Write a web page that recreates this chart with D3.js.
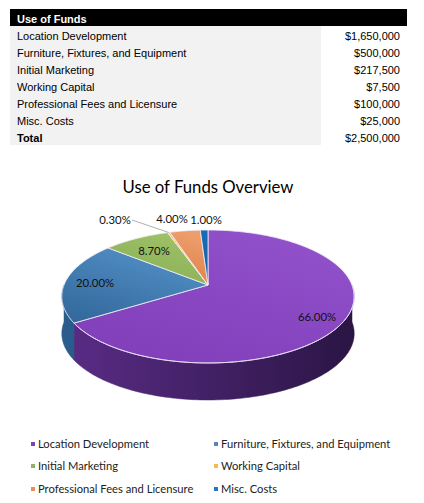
<!DOCTYPE html>
<html><head><meta charset="utf-8">
<script src="https://cdn.jsdelivr.net/npm/d3@7"></script>
<style>html,body{margin:0;padding:0;background:#fff;}svg{display:block;}</style>
</head><body>
<svg id="c" width="424" height="503"></svg>
<script>
const categories = ["Location Development","Furniture, Fixtures, and Equipment","Initial Marketing","Working Capital","Professional Fees and Licensure","Misc. Costs"];
const amounts = [1650000, 500000, 217500, 7500, 100000, 25000];
const amountLabels = ["$1,650,000","$500,000","$217,500","$7,500","$100,000","$25,000"];
const totalLabel = "$2,500,000";
const percentLabels = ["66.00%","20.00%","8.70%","0.30%","4.00%","1.00%"];
const tableTitle = "Use of Funds";
const chartTitle = "Use of Funds Overview";

const topLight = ["#9050ca","#5f9fd8","#a8c870","#f8cc6a","#f2a677","#1a6fb8"];
const topDark  = ["#8240bb","#2f6496","#6e9a3e","#e8a830","#c85a18","#0a4a85"];
const sideLight= ["#5a2c86","#2a5d8c","#5f8435","#c08a20","#a84a12","#0a3f72"];
const sideDark = ["#2b1545","#163a5e","#3f5a22","#8a6010","#7a340a","#072c52"];
const legendCol= ["#7d3fb6","#5585ba","#8fb26a","#f0bd4a","#ec8c5c","#2379c0"];

const svg = d3.select("#c");
const FONT_T = "'Liberation Sans', Arial, sans-serif";
const FONT_C = "Lato, 'Open Sans', sans-serif";

// ---------- Table ----------
const tX0 = 10, tX1 = 407, tGrayR = 321, hdrY = 9, hdrH = 17, rowH = 17;
const rows = categories.map((c,i)=>({label:c, value:amountLabels[i], bold:false}));
rows.push({label:"Total", value: totalLabel, bold:true});
const yRow = d3.scaleBand().domain(d3.range(rows.length)).range([hdrY+hdrH, hdrY+hdrH+rowH*rows.length]);
svg.append("rect").attr("x",tX0).attr("y",hdrY).attr("width",tX1-tX0).attr("height",hdrH).attr("fill","#000");
svg.append("text").attr("x",17).attr("y",hdrY+14).attr("fill","#fff").attr("font-family",FONT_T)
  .attr("font-size",11).attr("font-weight","bold").text(tableTitle);
svg.append("rect").attr("x",tX0).attr("y",hdrY+hdrH).attr("width",tGrayR-tX0).attr("height",rowH*rows.length).attr("fill","#f2f2f2");
const rg = svg.selectAll("g.row").data(rows).join("g").attr("class","row")
  .attr("transform",(d,i)=>`translate(0,${yRow(i)})`);
rg.append("text").attr("x",17).attr("y",rowH-3).attr("font-family",FONT_T).attr("font-size",11)
  .attr("font-weight",d=>d.bold?"bold":"normal").attr("fill","#000").text(d=>d.label);
rg.append("text").attr("x",400).attr("y",rowH-3).attr("text-anchor","end").attr("font-family",FONT_T).attr("font-size",11)
  .attr("fill","#000").text(d=>d.value);

// ---------- Title ----------
const title = svg.append("text").attr("x",208).attr("y",193).attr("text-anchor","middle")
  .attr("font-family",FONT_C).attr("font-size",18).attr("fill","#000").text(chartTitle);
{ const w = title.node().getComputedTextLength(); title.attr("font-size", 18*171/w); }

// ---------- 3D Pie ----------
const cx = 208, cy = 285, rx = 144, ry = 64.5, p = 0.173, depth = 37;
const pie = d3.pie().sort(null).value(d=>d)(amounts);
function proj(a, r=1){ // a: radians clockwise from top
  const X = Math.sin(a)*r, Z = Math.cos(a)*r;
  const s = 1/(1+p*Z);
  return [cx + rx*X*s, cy - ry*Z*s];
}
function arcPts(a0,a1,dy=0){
  const n = Math.max(2, Math.ceil((a1-a0)/0.02));
  return d3.range(n+1).map(k=>{const a=a0+(a1-a0)*k/n; const q=proj(a); return [q[0],q[1]+dy];});
}
const defs = svg.append("defs");
pie.forEach((d,i)=>{
  const g1 = defs.append("linearGradient").attr("id","side"+i).attr("gradientUnits","userSpaceOnUse")
    .attr("x1",cx-rx).attr("y1",0).attr("x2",cx+rx).attr("y2",0);
  g1.append("stop").attr("offset","0").attr("stop-color",sideLight[i]);
  g1.append("stop").attr("offset","1").attr("stop-color",sideDark[i]);
  const g2 = defs.append("linearGradient").attr("id","top"+i).attr("gradientUnits","userSpaceOnUse")
    .attr("x1",cx).attr("y1",cy-ry).attr("x2",cx-40).attr("y2",cy+ry+10);
  g2.append("stop").attr("offset","0").attr("stop-color",topLight[i]);
  g2.append("stop").attr("offset","1").attr("stop-color",topDark[i]);
});
const line = d3.line();
// sides (visible front: pi/2 .. 3pi/2)
const sideG = svg.append("g");
pie.forEach((d,i)=>{
  const a0 = Math.max(d.startAngle, Math.PI/2), a1 = Math.min(d.endAngle, 3*Math.PI/2);
  if (a1 <= a0) return;
  const top = arcPts(a0,a1,0), bot = arcPts(a0,a1,depth).reverse();
  sideG.append("path").attr("d", line(top.concat(bot))+"Z").attr("fill",`url(#side${i})`)
    .attr("stroke",`url(#side${i})`).attr("stroke-width",0.5);
});
// top faces
const topG = svg.append("g");
pie.forEach((d,i)=>{
  const pts = [[cx,cy]].concat(arcPts(d.startAngle,d.endAngle,0));
  topG.append("path").attr("d", line(pts)+"Z").attr("fill",`url(#top${i})`)
    .attr("stroke","#f4eef8").attr("stroke-width",0.8).attr("stroke-linejoin","round");
});
// white highlight along front rim
topG.append("path").attr("d", line(arcPts(Math.PI/2, pie[0].endAngle,0))).attr("fill","none")
  .attr("stroke","#e9defa").attr("stroke-width",0.8);

// ---------- Data labels ----------
const labelPos = [[317,321],[95,287],[154,255],[115,224],[172,223],[206,224]];
const lg = svg.append("g").attr("font-family",FONT_C).attr("font-size",11.4).attr("fill","#111");
pie.forEach((d,i)=>{
  lg.append("text").attr("x",labelPos[i][0]).attr("y",labelPos[i][1]).attr("text-anchor","middle").text(percentLabels[i]);
});
// leader line for Working Capital
{
  const mid = (pie[3].startAngle+pie[3].endAngle)/2, e = proj(mid);
  svg.append("path").attr("d", line([[132,220],[e[0],e[1]]])).attr("fill","none")
    .attr("stroke","#9a9a9a").attr("stroke-width",0.8);
}

// ---------- Legend ----------
const legX = [31, 214], legY = [444, 466, 489];
const leg = svg.append("g").attr("font-family",FONT_C).attr("font-size",11.2).attr("fill","#222");
categories.forEach((c,i)=>{
  const x = legX[i%2], y = legY[Math.floor(i/2)];
  leg.append("rect").attr("x",x).attr("y",y-2).attr("width",4).attr("height",4).attr("fill",legendCol[i]);
  leg.append("text").attr("x",x+7).attr("y",y+4).text(c);
});
</script>
</body></html>
